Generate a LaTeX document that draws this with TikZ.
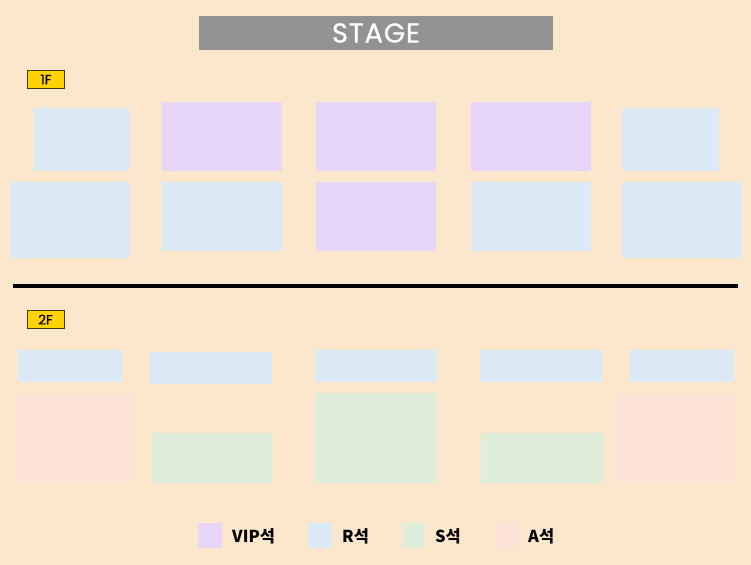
\documentclass[tikz,border=0pt]{standalone}
\usepackage{fontspec}
\setmainfont{Poppins}
\newfontfamily\stagefont[LetterSpace=3,FakeBold=0.6]{Poppins}
\newfontfamily\tagfont[FakeBold=0.8]{Poppins}
\newfontfamily\krfont{Noto Sans CJK KR}
\definecolor{bgc}{RGB}{251,231,203}
\definecolor{vipc}{RGB}{230,213,248}
\definecolor{rc}{RGB}{219,233,244}
\definecolor{sc}{RGB}{223,236,218}
\definecolor{ac}{RGB}{252,226,214}
\definecolor{stagec}{RGB}{146,146,146}
\definecolor{tagc}{RGB}{255,210,0}
\definecolor{tagb}{RGB}{70,55,20}
\newcommand\blk[6]{\node[blk,fill=#2,minimum width={(#5-#3)*1bp},minimum height={(#6-#4)*1bp}] (#1) at ({(#3+#5)/2},{(#4+#6)/2}) {};}
\tikzset{
  blk/.style={rectangle,draw=none,inner sep=0pt,outer sep=0pt},
  tag/.style={rectangle,fill=tagc,draw=tagb,line width=1bp,inner sep=0pt,minimum width=37bp,minimum height=18bp,font=\tagfont\fontsize{13.5}{13.5}\selectfont},
  legtext/.style={anchor=west,inner sep=0pt,font=\krfont\bfseries\fontsize{16.5}{16.5}\selectfont}
}
\begin{document}
\begin{tikzpicture}[x=1bp,y=-1bp]
\fill[bgc] (0,0) rectangle (751,565);
\useasboundingbox (0,0) rectangle (751,565);
% stage
\node[blk,fill=stagec,minimum width=354bp,minimum height=34bp,text=white,font=\stagefont\fontsize{27.5}{27.5}\selectfont] (stage) at (376,33) {STAGE};
% floor tags
\node[tag] (f1) at (46,79.5) {1F};
\node[tag] (f2) at (45.5,319.5) {2F};
% 1F row 1
\blk{a1}{rc}{34}{108}{130}{171}
\blk{a2}{vipc}{162}{102}{282}{171}
\blk{a3}{vipc}{316}{102}{436}{171}
\blk{a4}{vipc}{471}{102}{591}{171}
\blk{a5}{rc}{622}{108}{719}{171}
% 1F row 2
\blk{b1}{rc}{10}{182}{130}{258}
\blk{b2}{rc}{162}{182}{282}{251}
\blk{b3}{vipc}{316}{182}{436}{251}
\blk{b4}{rc}{471}{182}{591}{251}
\blk{b5}{rc}{622}{182}{742}{258}
% divider
\coordinate (dl) at (13,286);
\coordinate (dr) at (738,286);
\draw[line width=4bp,black] (dl) -- (dr);
% 2F row 1
\blk{c1}{rc}{18}{350}{122}{382}
\blk{c2}{rc}{150}{352}{272}{384}
\blk{c3}{rc}{315}{350}{437}{382}
\blk{c4}{rc}{480}{350}{602}{382}
\blk{c5}{rc}{630}{350}{734}{382}
% 2F row 2
\blk{d1}{ac}{18}{395}{134}{482}
\blk{d2}{sc}{152}{433}{273}{483}
\blk{d3}{sc}{315}{393}{437}{483}
\blk{d4}{sc}{481}{433}{604}{483}
\blk{d5}{ac}{616}{395}{734}{482}
% legend
\blk{lv}{vipc}{198}{523}{222}{548}
\blk{lr}{rc}{308}{523}{332}{548}
\blk{ls}{sc}{403}{523}{425}{548}
\blk{la}{ac}{497}{523}{519}{548}
\node[legtext] (tv) at (232,536) {VIP석};
\node[legtext] (tr) at (342,536) {R석};
\node[legtext] (ts) at (435,536) {S석};
\node[legtext] (ta) at (528,536) {A석};
\end{tikzpicture}
\end{document}
